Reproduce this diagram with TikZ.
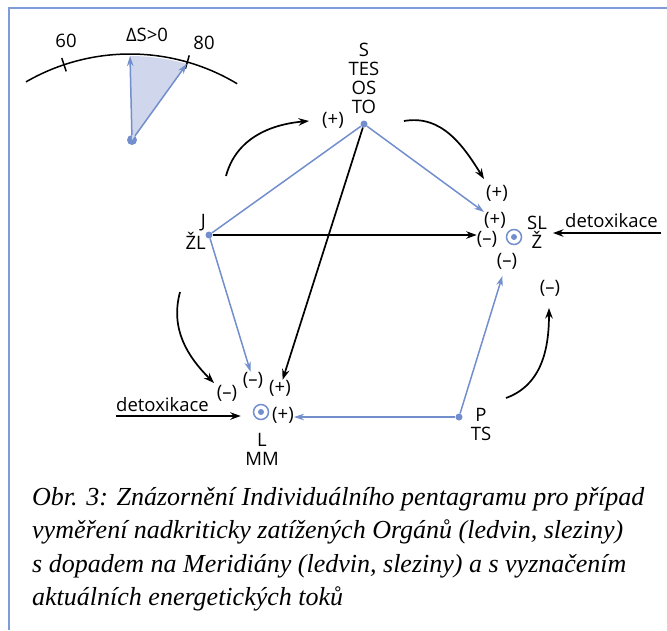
\documentclass[tikz,border=0pt]{standalone}
\usepackage{fontspec}
\setmainfont{Liberation Serif}
\newfontfamily\labelfont{Open Sans}
\usepackage{xcolor}
\usepackage{tikz}
\usetikzlibrary{arrows.meta,positioning}

\definecolor{meridian}{RGB}{114,142,205}
\definecolor{meridianfill}{RGB}{208,215,237}
\definecolor{framecolor}{RGB}{128,156,216}

\begin{document}
\begin{tikzpicture}[x=1pt,y=1pt,
		lbl/.style={font=\labelfont\fontsize{18.5}{19}\selectfont, inner sep=0pt, align=center},
		meridianline/.style={draw=meridian, line width=1.5pt},
		meridianarrow/.style={meridianline, -{Stealth[length=10pt,width=6.5pt]}},
		flow/.style={draw=black, line width=1.7pt, -{Stealth[length=10.5pt,width=7.5pt]}},
		vertexdot/.style={circle, fill=meridian, inner sep=0pt, minimum size=7pt},
		organ/.style={circle, draw=meridian, line width=1.5pt, inner sep=0pt, minimum size=15pt}]
		\useasboundingbox (0,0) rectangle (667,-630);
		\draw[framecolor, line width=2pt] (9,-630) -- (9,-8) -- (667,-8);

		\coordinate (gc) at (130,-262);
		\coordinate (gtop) at ([shift={(90:206)}]gc);
		\coordinate (geighty) at ([shift={(74:206)}]gc);
		\node[circle, fill=meridian, inner sep=0pt, minimum size=10pt] (gdot) at (132,-140) {};
		\fill[meridianfill] (gdot.center) -- (gtop) arc[start angle=90, end angle=74, radius=206] -- cycle;
		\draw[line width=1.5pt] ([shift={(120:208)}]gc) arc[start angle=120, end angle=59, radius=208];
		\draw[line width=1.5pt] ([shift={(108.5:201)}]gc) -- ([shift={(108.5:215)}]gc);
		\draw[line width=1.5pt] ([shift={(74:201)}]gc) -- ([shift={(74:215)}]gc);
		\draw[meridianarrow] (gdot) -- (gtop);
		\draw[meridianarrow] (gdot) -- (geighty);
		\node[lbl] (sixty) at (66,-41) {60};
		\node[lbl] (deltas) at (147,-35) {ΔS>0};
		\node[lbl] (eighty) at (204,-43) {80};

		\node[vertexdot] (to) at (364,-124) {};
		\node[lbl] (tolabel) at (364,-78) {S\\TES\\OS\\TO};
		\node[vertexdot] (j) at (209,-235) {};
		\node[lbl, align=right, anchor=east] (jlabel) at (206,-232) {J\\ŽL};
		\node[organ] (sl) at (514,-237) {};
		\fill[meridian] (sl) circle (3);
		\node[lbl] (sllabel) at (537,-232) {SL\\Ž};
		\node[vertexdot] (p) at (459,-417) {};
		\node[lbl] (plabel) at (481,-424) {P\\TS};
		\node[organ] (l) at (261,-412) {};
		\fill[meridian] (l) circle (3);
		\node[lbl] (llabel) at (262,-449) {L\\MM};

		\node[lbl] (topplus) at (333,-120) {(+)};
		\node[lbl] (slplus1) at (497,-193) {(+)};
		\node[lbl] (slplus2) at (495,-220) {(+)};
		\node[lbl] (slminus1) at (487,-239) {(–)};
		\node[lbl] (slminus2) at (507,-261) {(–)};
		\node[lbl] (pminus) at (550,-288) {(–)};
		\node[lbl] (lminus1) at (227,-393) {(–)};
		\node[lbl] (lminus2) at (253,-380) {(–)};
		\node[lbl] (lplus1) at (280,-388) {(+)};
		\node[lbl] (lplus2) at (283,-415) {(+)};

		\draw[meridianline] (to) -- (j);
		\draw[meridianarrow] (to) -- (slplus2);
		\draw[meridianarrow] (j) -- (lminus2);
		\draw[meridianarrow] (p) -- (p -| lplus2.east);
		\draw[meridianarrow, shorten >=7pt] (p) -- (slminus2);
		\draw[flow] (j) -- (j -| slminus1.west);
		\draw[flow] (to) -- (lplus1);

		\coordinate (c1s) at (226,-176);
		\coordinate (c1e) at (309,-121);
		\coordinate (c2s) at (404,-121);
		\coordinate (c2e) at (484,-179);
		\coordinate (c3s) at (180,-292);
		\coordinate (c3e) at (214,-383);
		\coordinate (c4s) at (506,-398);
		\coordinate (c4e) at (549,-308);
		\draw[flow] (c1s) to[out=75, in=185] (c1e);
		\draw[flow] (c2s) to[out=10, in=122] (c2e);
		\draw[flow] (c3s) to[out=255, in=135] (c3e);
		\draw[flow] (c4s) to[out=20, in=270] (c4e);

		\coordinate (dlstart) at (116,-416);
		\draw[flow, shorten >=12pt] (dlstart) -- (dlstart -| l.west);
		\node[lbl, anchor=base west] (detoxleft) at (116,-411) {detoxikace};
		\coordinate (drstart) at (661,-233);
		\coordinate (drend) at (553,-233);
		\draw[flow] (drstart) -- (drend);
		\node[lbl, anchor=base east] (detoxright) at (658,-227) {detoxikace};

		\node[anchor=north west, align=left, inner sep=0pt, font=\itshape\fontsize{26}{33.5}\selectfont] (caption) at (32,-487) {Obr. 3: Znázornění Individuálního pentagramu pro případ\\vyměření nadkriticky zatížených Orgánů (ledvin, sleziny)\\s dopadem na Meridiány (ledvin, sleziny) a s vyznačením\\aktuálních energetických toků};
	\end{tikzpicture}
\end{document}
